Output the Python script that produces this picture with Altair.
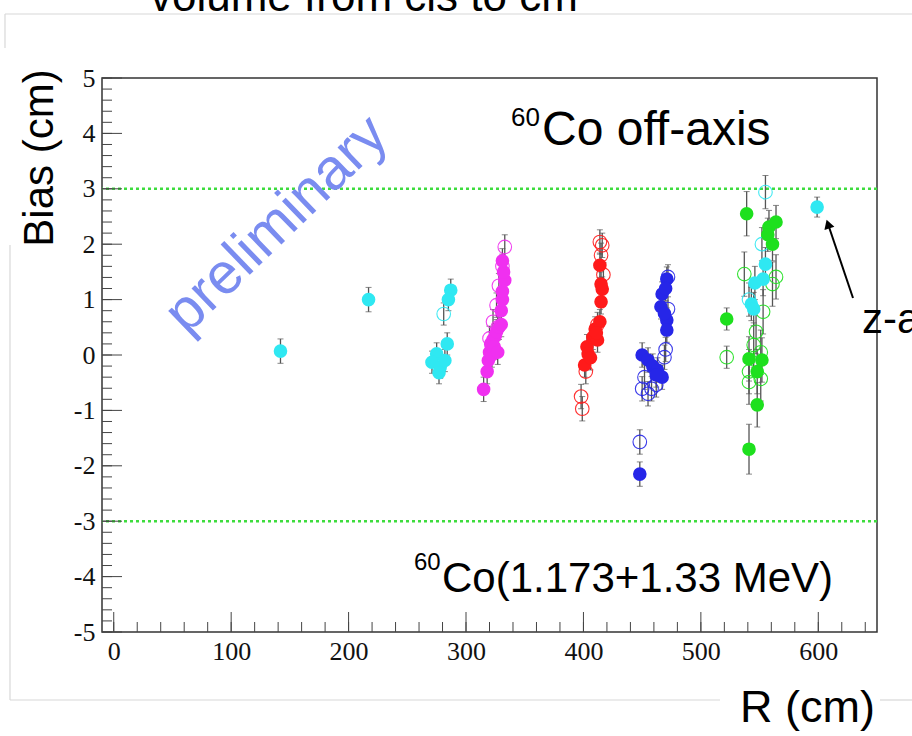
import altair as alt
import pandas as pd

# ---------------- data ----------------
series_names = ["cyan", "magenta", "red", "blue", "green"]
series_colors = ["#2fe8f2", "#f030f0", "#ff1a1a", "#2626e8", "#1ee01e"]

cyan_filled_R    = [142, 217, 287, 285, 284, 275, 271, 278, 282, 277, 555, 546, 553, 543, 545, 599]
cyan_filled_bias = [0.07, 1.0, 1.17, 1.0, 0.2, 0.02, -0.13, -0.22, -0.1, -0.32, 1.64, 1.3, 1.37, 0.92, 0.83, 2.67]
cyan_filled_err  = [0.22, 0.22, 0.2, 0.2, 0.2, 0.2, 0.2, 0.2, 0.2, 0.2, 0.3, 0.3, 0.3, 0.3, 0.3, 0.18]
cyan_open_R      = [281, 555, 552, 541]
cyan_open_bias   = [0.74, 2.94, 2.0, 1.0]
cyan_open_err    = [0.2, 0.3, 0.3, 0.3]

magenta_filled_R    = [315, 318, 319, 320, 321, 323, 325, 326, 328, 330, 324, 322, 327, 330, 331, 331, 333, 332, 331]
magenta_filled_bias = [-0.62, -0.3, -0.1, 0.05, 0.2, 0.28, 0.35, 0.42, 0.5, 0.55, 0.15, 0.0, 0.05, 0.8, 1.0, 1.15, 1.35, 1.5, 1.7]
magenta_filled_err  = [0.22] * 19
magenta_open_R      = [333, 331, 328, 326, 323, 320, 327]
magenta_open_bias   = [1.95, 1.6, 1.25, 0.9, 0.6, 0.3, 0.5]
magenta_open_err    = [0.22] * 7

red_filled_R    = [401, 403, 408, 410, 414, 412, 404, 415, 416, 415, 414, 406, 411]
red_filled_bias = [-0.18, 0.15, 0.32, 0.47, 0.6, 0.27, 0.02, 0.96, 1.19, 1.28, 1.62, -0.05, 0.4]
red_filled_err  = [0.22] * 13
red_open_R      = [398, 399, 415, 414, 416, 412, 417, 402]
red_open_bias   = [-0.75, -0.97, 1.8, 2.04, 1.98, 0.55, 1.45, -0.3]
red_open_err    = [0.22] * 8

blue_filled_R    = [471, 467, 466, 471, 471, 450, 455, 459, 463, 467, 462, 448, 470, 469]
blue_filled_bias = [1.37, 1.1, 0.87, 0.63, 0.45, 0.0, -0.09, -0.2, -0.27, -0.4, -0.36, -2.15, 1.2, 0.75]
blue_filled_err  = [0.22] * 14
blue_open_R      = [472, 472, 469, 452, 450, 458, 455, 462, 448, 470]
blue_open_bias   = [1.41, 0.83, -0.04, -0.4, -0.61, -0.61, -0.7, -0.54, -1.57, 0.1]
blue_open_err    = [0.22] * 10

green_filled_R    = [522, 539, 541, 541, 548, 552, 548, 558, 564, 561, 557]
green_filled_bias = [0.65, 2.55, -0.07, -1.7, -0.3, -0.09, -0.9, 2.31, 2.4, 2.0, 2.17]
green_filled_err  = [0.2, 0.4, 0.4, 0.45, 0.4, 0.4, 0.4, 0.3, 0.3, 0.3, 0.3]
green_open_R      = [522, 537, 564, 561, 553, 547, 545, 551, 541, 541, 551]
green_open_bias   = [-0.04, 1.46, 1.41, 1.28, 0.78, 0.42, 0.18, 0.05, -0.3, -0.49, -0.43]
green_open_err    = [0.2, 0.4, 0.4, 0.4, 0.4, 0.4, 0.4, 0.4, 0.4, 0.4, 0.4]

y_tick_labels = [-5, -4, -3, -2, -1, 0, 1, 2, 3, 4, 5]
x_tick_labels = [0, 100, 200, 300, 400, 500, 600]
y_minor_ticks = [v / 5 for v in range(-25, 26)]
x_minor_ticks = [v for v in range(0, 660, 20)]
limit_lines = [3, -3]

# ---------------- assemble table ----------------
groups = [
    ("cyan", True, cyan_filled_R, cyan_filled_bias, cyan_filled_err),
    ("cyan", False, cyan_open_R, cyan_open_bias, cyan_open_err),
    ("magenta", True, magenta_filled_R, magenta_filled_bias, magenta_filled_err),
    ("magenta", False, magenta_open_R, magenta_open_bias, magenta_open_err),
    ("red", True, red_filled_R, red_filled_bias, red_filled_err),
    ("red", False, red_open_R, red_open_bias, red_open_err),
    ("blue", True, blue_filled_R, blue_filled_bias, blue_filled_err),
    ("blue", False, blue_open_R, blue_open_bias, blue_open_err),
    ("green", True, green_filled_R, green_filled_bias, green_filled_err),
    ("green", False, green_open_R, green_open_bias, green_open_err),
]
rows = []
for name, filled, Rs, Bs, Es in groups:
    for r, b, e in zip(Rs, Bs, Es):
        rows.append({"series": name, "filled": filled, "R": r, "bias": b,
                     "lo": b - e, "hi": b + e})
df = pd.DataFrame(rows)

W, H = 775, 554
xs = alt.Scale(domain=[-10, 650], nice=False, zero=False)
ys = alt.Scale(domain=[-5, 5], nice=False, zero=False)
cs = alt.Scale(domain=series_names, range=series_colors)

SERIF = "Liberation Serif"
SANS = "Liberation Sans"

x_axis = alt.Axis(values=x_tick_labels, ticks=False, domain=False, grid=False,
                  labelFont=SERIF, labelFontSize=26, labelColor="#111",
                  labelPadding=6, labelFlush=False, labelOverlap=False, title=None)
y_axis = alt.Axis(values=y_tick_labels, ticks=False, domain=False, grid=False,
                  labelFont=SERIF, labelFontSize=26, labelColor="#111",
                  labelPadding=7, labelFlush=False, labelOverlap=False,
                  labelExpr="'' + datum.value", title=None)

def X(field):
    return alt.X(field, type="quantitative", scale=xs, axis=x_axis)

def Y(field):
    return alt.Y(field, type="quantitative", scale=ys, axis=y_axis)

base = alt.Chart(df)

# error bars
err = base.mark_rule(color="#555", strokeWidth=1.3).encode(x=X("R"), y=Y("lo"), y2="hi")
cap_lo = base.mark_tick(color="#555", orient="horizontal", size=6, thickness=1).encode(x=X("R"), y=Y("lo"))
cap_hi = base.mark_tick(color="#555", orient="horizontal", size=6, thickness=1).encode(x=X("R"), y=Y("hi"))

open_pts = base.transform_filter("!datum.filled").mark_point(
    filled=False, shape="circle", size=185, strokeWidth=1.1, opacity=0.9).encode(
    x=X("R"), y=Y("bias"), color=alt.Color("series:N", scale=cs, legend=None))
filled_pts = base.transform_filter("datum.filled").mark_point(
    filled=True, shape="circle", size=185, opacity=1).encode(
    x=X("R"), y=Y("bias"), color=alt.Color("series:N", scale=cs, legend=None))

# limit lines
limits = alt.Chart(pd.DataFrame({"y": limit_lines})).mark_rule(
    color="#3ddc3d", strokeWidth=2.5, strokeDash=[3, 3]).encode(y=Y("y"))

# inward ticks (ROOT style)
ymaj = alt.Chart(pd.DataFrame({"v": y_tick_labels})).mark_rule(color="#444", strokeWidth=1).encode(
    y=Y("v"), x=alt.value(0), x2=alt.value(20))
ymin = alt.Chart(pd.DataFrame({"v": y_minor_ticks})).mark_rule(color="#444", strokeWidth=1).encode(
    y=Y("v"), x=alt.value(0), x2=alt.value(10))
xmaj = alt.Chart(pd.DataFrame({"v": x_tick_labels})).mark_rule(color="#444", strokeWidth=1).encode(
    x=X("v"), y=alt.value(H), y2=alt.value(H - 20))
xmin = alt.Chart(pd.DataFrame({"v": x_minor_ticks})).mark_rule(color="#444", strokeWidth=1).encode(
    x=X("v"), y=alt.value(H), y2=alt.value(H - 10))

# ---------------- annotations (pixel offsets relative to plot area) ----------------
def txt(text, x, y, size, color="black", align="left", baseline="alphabetic", angle=0, font=SANS):
    kw = dict(text=text, fontSize=size, color=color, align=align, baseline=baseline, font=font)
    if angle:
        kw["angle"] = angle
    return alt.Chart(pd.DataFrame({"a": [0]})).mark_text(**kw).encode(
        x=alt.value(x), y=alt.value(y))

def seg(x1, y1, x2, y2, color="#d8d8d8", width=1.2):
    return alt.Chart(pd.DataFrame({"a": [0]})).mark_rule(color=color, strokeWidth=width).encode(
        x=alt.value(x1), x2=alt.value(x2), y=alt.value(y1), y2=alt.value(y2))

annotations = [
    seg(-97, -64, 810, -64), seg(-97, -64, -97, -30),
    seg(-92, 167, -92, 622), seg(-92, 622, 618, 622), seg(778, 622, 810, 622),
    txt("volume from cls to cm", 48, -67, 44),
    txt("Bias (cm)", -62, 80, 42, align="center", baseline="middle", angle=270),
    txt("R (cm)", 638, 644, 45),
    txt("preliminary", 175, 147, 58, color="#7a8cf0", align="center", baseline="middle", angle=316),
    txt("60", 409, 48, 26),
    txt("Co off-axis", 440, 67, 48),
    txt("60", 312, 492, 24),
    txt("Co(1.173+1.33 MeV)", 340, 514, 42),
    txt("z-a", 760, 255, 42),
    seg(751, 220, 726, 146, color="black", width=2),
    alt.Chart(pd.DataFrame({"a": [0]})).mark_point(
        shape="triangle-up", filled=True, color="black", size=110, angle=342, opacity=1).encode(
        x=alt.value(726), y=alt.value(146)),
]

chart = alt.layer(
    limits, err, cap_lo, cap_hi, open_pts, filled_pts, ymaj, ymin, xmaj, xmin, *annotations
).properties(
    width=W, height=H,
    padding={"left": 102, "top": 78, "right": 35, "bottom": 104},
    autosize=alt.AutoSizeParams(type="none"),
    background="white",
).configure_view(stroke="#333", strokeWidth=1.5)

chart.save("out.html", embed_options={"renderer": "svg", "actions": False})
